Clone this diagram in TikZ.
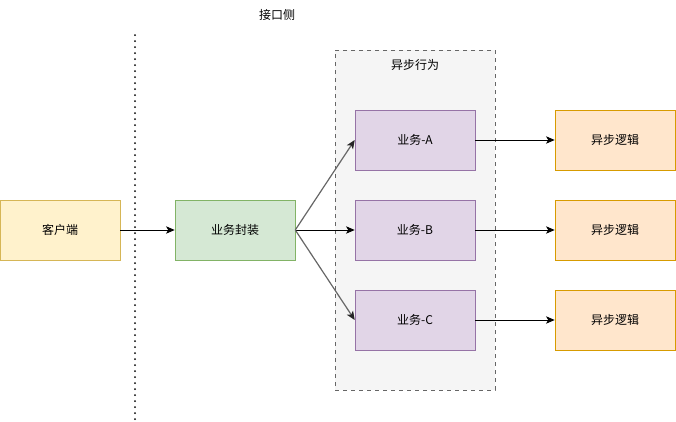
\documentclass[tikz,border=0pt]{standalone}
\usepackage{fontspec}
\setmainfont{Noto Sans CJK SC}
\usepackage{xcolor}
\usepackage{tikz}
\usetikzlibrary{arrows.meta}
\usetikzlibrary{positioning}
\definecolor{clientfill}{HTML}{FFF2CC}
\definecolor{clientdraw}{HTML}{D6B656}
\definecolor{wrapfill}{HTML}{D5E8D4}
\definecolor{wrapdraw}{HTML}{82B366}
\definecolor{bizfill}{HTML}{E1D5E7}
\definecolor{bizdraw}{HTML}{9673A6}
\definecolor{logicfill}{HTML}{FFE6CC}
\definecolor{logicdraw}{HTML}{D79B00}
\definecolor{groupfill}{HTML}{F5F5F5}
\definecolor{groupdraw}{HTML}{666666}
\tikzstyle{process} = [rectangle, minimum width=90pt, minimum height=45pt, text centered, draw=black, font=\fontsize{9pt}{11pt}\selectfont, inner sep=0pt]
\tikzstyle{arrow} = [-{Stealth[length=6.5pt, width=5.5pt, inset=1.6pt]}, line width=0.75pt]
\tikzstyle{fork} = [-{Stealth[length=6.5pt, width=5.5pt, inset=1.6pt, color=black!85]}, line width=0.9pt, draw=groupdraw]

\begin{document}
\begin{tikzpicture}[x=0.75pt, y=-0.75pt]
    \useasboundingbox (0,0) rectangle (676,422);
    % background group
    \node(group)[rectangle, dashed, draw=groupdraw, fill=groupfill, line width=0.75pt, minimum width=120pt, minimum height=255pt, inner sep=0pt] at (415,220) {};
    \node(grouptitle)[font=\fontsize{9pt}{11pt}\selectfont] at (415,65) {异步行为};
    %
    \node(client)[process, fill=clientfill, draw=clientdraw] at (60,230) {客户端};
    \node(wrap)[node distance=131.25pt, process, fill=wrapfill, draw=wrapdraw, right of=client] {业务封装};
    \node(bizB)[node distance=135pt, process, fill=bizfill, draw=bizdraw, right of=wrap] {业务-B};
    \node(bizA)[node distance=67.5pt, process, fill=bizfill, draw=bizdraw, above of=bizB] {业务-A};
    \node(bizC)[node distance=67.5pt, process, fill=bizfill, draw=bizdraw, below of=bizB] {业务-C};
    \node(logicA)[node distance=150pt, process, fill=logicfill, draw=logicdraw, right of=bizA] {异步逻辑};
    \node(logicB)[node distance=150pt, process, fill=logicfill, draw=logicdraw, right of=bizB] {异步逻辑};
    \node(logicC)[node distance=150pt, process, fill=logicfill, draw=logicdraw, right of=bizC] {异步逻辑};
    %
    \node(side)[font=\fontsize{9pt}{11pt}\selectfont] at (277,15) {接口侧};
    \coordinate(cuttop) at (135,35);
    \coordinate(cutbot) at (135,420);
    \draw[line width=1.5pt, dash pattern=on 0pt off 4.5pt, line cap=round](cuttop) -- (cutbot);
    %
    \draw[arrow](client) -- (wrap);
    \draw[fork](wrap.east) -- (bizA.west);
    \draw[arrow](wrap.east) -- (bizB.west);
    \draw[fork](wrap.east) -- (bizC.west);
    \draw[arrow](bizA) -- (logicA);
    \draw[arrow](bizB) -- (logicB);
    \draw[arrow](bizC) -- (logicC);
  \end{tikzpicture}
\end{document}
